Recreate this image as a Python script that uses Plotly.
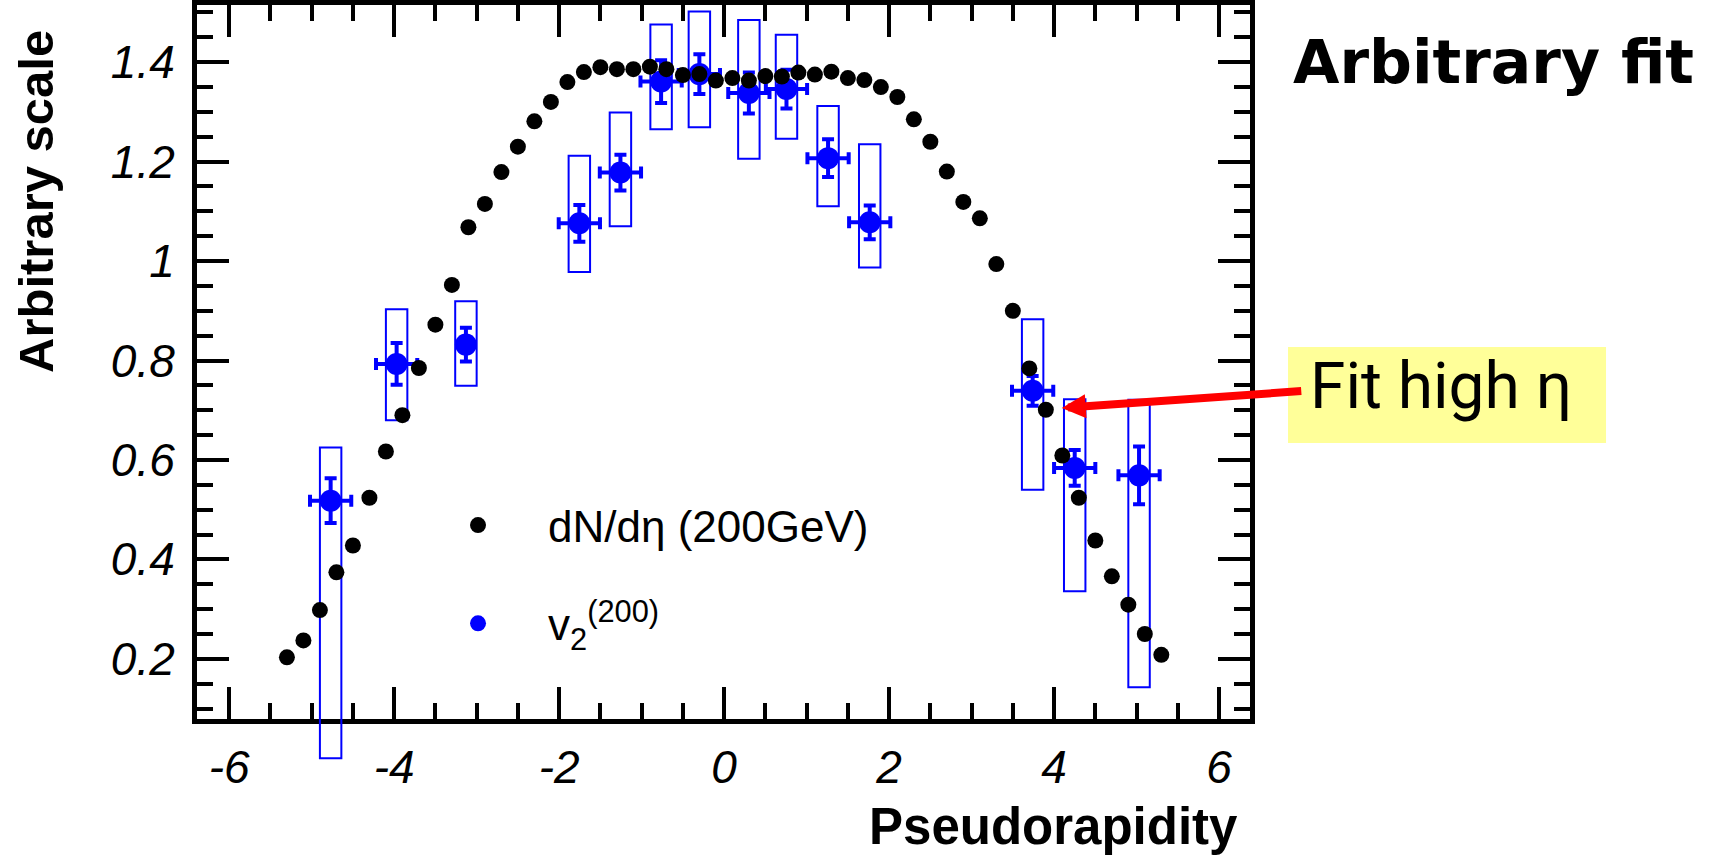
import plotly.graph_objects as go

# ---------------- data ----------------
dndeta_eta = [-5.3, -5.1, -4.9, -4.7, -4.5, -4.3, -4.1, -3.9, -3.7, -3.5, -3.3, -3.1,
              -2.9, -2.7, -2.5, -2.3, -2.1, -1.9, -1.7, -1.5, -1.3, -1.1, -0.9, -0.7,
              -0.5, -0.3, -0.1, 0.1, 0.3, 0.5, 0.7, 0.9, 1.1, 1.3, 1.5, 1.7, 1.9, 2.1,
              2.3, 2.5, 2.7, 2.9, 3.1, 3.3, 3.5, 3.7, 3.9, 4.1, 4.3, 4.5, 4.7, 4.9, 5.1, 5.3]
dndeta_val = [0.203, 0.237, 0.298, 0.374, 0.428, 0.524, 0.617, 0.690, 0.785, 0.872, 0.952, 1.068,
              1.115, 1.179, 1.230, 1.281, 1.320, 1.360, 1.380, 1.390, 1.386, 1.386, 1.391, 1.386,
              1.374, 1.376, 1.363, 1.368, 1.363, 1.372, 1.371, 1.379, 1.375, 1.381, 1.368, 1.364, 1.350, 1.330,
              1.285, 1.240, 1.180, 1.119, 1.086, 0.994, 0.900, 0.784, 0.701, 0.609, 0.524, 0.438, 0.366, 0.309, 0.250, 0.208]

v2_eta = [-4.77, -3.97, -3.13, -1.755, -1.257, -0.764, -0.30, 0.30, 0.756, 1.26, 1.765, 3.74, 4.25, 5.03]
v2_val = [0.518, 0.793, 0.832, 1.076, 1.178, 1.361, 1.376, 1.338, 1.346, 1.207, 1.078, 0.739, 0.584, 0.569]
v2_err = [0.045, 0.042, 0.034, 0.037, 0.036, 0.043, 0.040, 0.041, 0.039, 0.038, 0.034, 0.030, 0.036, 0.058]
v2_xerr = [0.25, 0.25, 0.0, 0.25, 0.25, 0.25, 0.25, 0.25, 0.25, 0.25, 0.25, 0.25, 0.25, 0.25]
v2_sys_lo = [0.0, 0.680, 0.749, 0.978, 1.070, 1.265, 1.269, 1.206, 1.246, 1.110, 0.987, 0.540, 0.336, 0.143]
v2_sys_hi = [0.625, 0.903, 0.919, 1.212, 1.299, 1.476, 1.502, 1.485, 1.455, 1.312, 1.235, 0.883, 0.722, 0.721]

x_ticks = [-6, -4, -2, 0, 2, 4, 6]
x_ticktext = ["-6", "-4", "-2", "0", "2", "4", "6"]
y_ticks = [0.2, 0.4, 0.6, 0.8, 1.0, 1.2, 1.4]
y_ticktext = ["0.2", "0.4", "0.6", "0.8", "1", "1.2", "1.4"]

BLUE = "#0000FF"
FONT = "Liberation Sans, Arial, sans-serif"

# visible frame: y range over its domain; hidden twin axes (full page height) carry the marks
X_RANGE = [-6.39, 6.375]
Y_RANGE = [0.079, 1.515]
Y_DOMAIN = [0.16, 1.0]
Y2_RANGE = [Y_RANGE[1] - (Y_RANGE[1] - Y_RANGE[0]) / (Y_DOMAIN[1] - Y_DOMAIN[0]), Y_RANGE[1]]

fig = go.Figure()

# systematic boxes
fig.add_trace(go.Bar(
    x=v2_eta, base=v2_sys_lo, y=[h - l for h, l in zip(v2_sys_hi, v2_sys_lo)],
    width=0.26, marker=dict(color="rgba(0,0,0,0)", line=dict(color=BLUE, width=2)),
    showlegend=False, cliponaxis=False, hoverinfo="skip", xaxis="x2", yaxis="y2"))

# v2 points
fig.add_trace(go.Scatter(
    x=v2_eta, y=v2_val, mode="markers", name="v<sub>2</sub><sup>(200)</sup>",
    marker=dict(color=BLUE, size=22),
    error_y=dict(type="data", array=v2_err, color=BLUE, thickness=4, width=6),
    error_x=dict(type="data", array=v2_xerr, color=BLUE, thickness=4, width=6),
    legendrank=2, legendgroup="b", xaxis="x2", yaxis="y2"))

# dN/deta
fig.add_trace(go.Scatter(
    x=dndeta_eta, y=dndeta_val, mode="markers", name="dN/dη (200GeV)",
    marker=dict(color="black", size=16),
    legendrank=1, legendgroup="a", xaxis="x2", yaxis="y2"))

axis_common = dict(
    showline=True, linewidth=5, linecolor="black", mirror="allticks",
    ticks="inside", ticklen=32, tickwidth=4, tickcolor="black",
    showgrid=False, zeroline=False,
    tickfont=dict(family=FONT, size=46, color="black", style="italic"),
)

fig.update_layout(
    xaxis=dict(range=X_RANGE, tickvals=x_ticks, ticktext=x_ticktext, ticklabelstandoff=4,
               anchor="y",
               minor=dict(ticks="inside", ticklen=16, tickwidth=4, tickcolor="black", dtick=0.5, tick0=0),
               **axis_common),
    yaxis=dict(range=Y_RANGE, domain=Y_DOMAIN, tickvals=y_ticks, ticktext=y_ticktext,
               ticklabelstandoff=8, anchor="x",
               minor=dict(ticks="inside", ticklen=16, tickwidth=4, tickcolor="black", dtick=0.05, tick0=0),
               **axis_common),
    xaxis2=dict(range=X_RANGE, domain=[0, 1], visible=False, anchor="y2",
                showgrid=False, zeroline=False),
    yaxis2=dict(range=Y2_RANGE, domain=[0, 1], visible=False, anchor="x2",
                showgrid=False, zeroline=False),
)

fig.update_layout(
    width=1713, height=855,
    margin=dict(l=197, r=463, t=5, b=0),
    paper_bgcolor="white", plot_bgcolor="rgba(0,0,0,0)",
    barmode="overlay",
    showlegend=True,
    legend=dict(x=0.2004, y=0.4294, xanchor="left", yanchor="top",
                font=dict(family=FONT, size=44, color="black"),
                bgcolor="rgba(0,0,0,0)", itemwidth=130, tracegroupgap=38,
                traceorder="grouped"),
    shapes=[dict(type="rect", xref="paper", yref="paper",
                 x0=1.0361, x1=1.3381, y0=0.4847, y1=0.5976,
                 fillcolor="#FFFF99", line=dict(width=0), layer="above")],
    annotations=[
        dict(text="<b>Arbitrary scale</b>", xref="paper", yref="paper", x=-0.1529, y=0.7694,
             textangle=-90, showarrow=False, xanchor="center", yanchor="middle",
             font=dict(family=FONT, size=49, color="black")),
        dict(text="<b>Pseudorapidity</b>", xref="paper", yref="paper", x=0.9905, y=0.033,
             showarrow=False, xanchor="right", yanchor="middle",
             font=dict(family=FONT, size=51, color="black")),
        dict(text="<b>Arbitrary fit</b>", xref="paper", yref="paper", x=1.2317, y=0.9329,
             showarrow=False, xanchor="center", yanchor="middle",
             font=dict(family="DejaVu Sans", size=60, color="black")),
        dict(text="Fit high η", xref="paper", yref="paper", x=1.055, y=0.5512,
             showarrow=False, xanchor="left", yanchor="middle",
             font=dict(family="Roboto, DejaVu Sans", size=64, color="black")),
        dict(text="", xref="x", yref="y", x=4.093, y=0.7045, ax=241, ay=-17,
             showarrow=True, arrowhead=2, arrowsize=0.6, arrowwidth=8, arrowcolor="#FF0000"),
    ],
)

fig.write_html("out.html")
